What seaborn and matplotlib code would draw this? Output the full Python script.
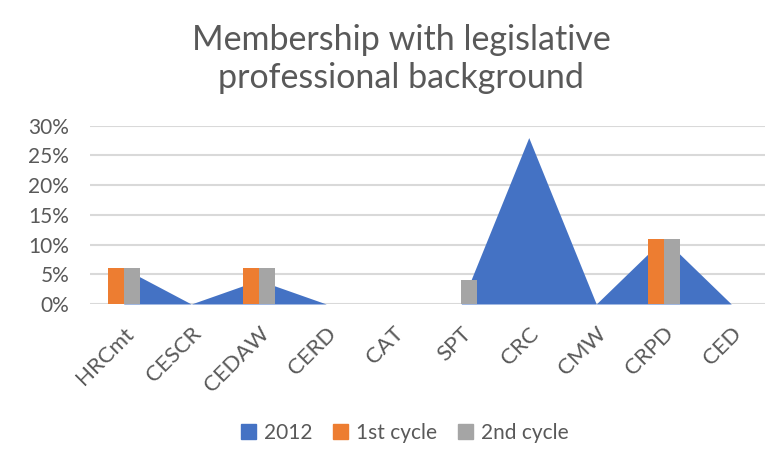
import numpy as np
import pandas as pd
import matplotlib
matplotlib.use("Agg")
import matplotlib.pyplot as plt
from matplotlib.patches import Patch
import seaborn as sns

# ---------- Data ----------
committees = ["HRCmt", "CESCR", "CEDAW", "CERD", "CAT", "SPT", "CRC", "CMW", "CRPD", "CED"]
share_2012 = [0.06, 0.0, 0.04, 0.0, 0.0, 0.0, 0.28, 0.0, 0.11, 0.0]
first_cycle = [0.06, 0.0, 0.06, 0.0, 0.0, 0.0, 0.0, 0.0, 0.11, 0.0]
second_cycle = [0.06, 0.0, 0.06, 0.0, 0.0, 0.04, 0.0, 0.0, 0.11, 0.0]
y_ticks = [0.0, 0.05, 0.10, 0.15, 0.20, 0.25, 0.30]

BLUE = "#4472C4"
ORANGE = "#ED7D31"
GRAY = "#A5A5A5"
TEXT = "#595959"
GRID = "#D9D9D9"

sns.set_theme(style="white")
plt.rcParams["font.family"] = ["Lato", "DejaVu Sans"]

bars = pd.DataFrame({
    "committee": committees * 2,
    "cycle": ["1st cycle"] * len(committees) + ["2nd cycle"] * len(committees),
    "share": first_cycle + second_cycle,
})

fig = plt.figure(figsize=(7.8, 4.73), dpi=100)
ax = fig.add_axes([90 / 780, 1 - 304 / 473, (765 - 90) / 780, (304 - 125.7) / 473])

# area series for 2012, drawn behind the bars
ax.fill_between(np.arange(len(committees)), 0, share_2012, color=BLUE, lw=0, zorder=1)

sns.barplot(data=bars, x="committee", y="share", hue="cycle", order=committees,
            palette=[ORANGE, GRAY], width=0.48, linewidth=0, saturation=1,
            legend=False, ax=ax, zorder=2)

ax.set_xlim(-0.5, len(committees) - 0.5)
ax.set_ylim(0, 0.30)
ax.set_yticks(y_ticks)
ax.set_yticklabels([f"{int(round(t * 100))}%" for t in y_ticks])
ax.yaxis.grid(True, color=GRID, lw=1.5, zorder=0)
ax.set_axisbelow(True)
for s in ax.spines.values():
    s.set_visible(False)
ax.set_xlabel("")
ax.set_ylabel("")
ax.tick_params(axis="y", length=0, pad=15, labelsize=15, labelcolor=TEXT)
ax.tick_params(axis="x", length=0, pad=14, labelsize=16, labelcolor=TEXT)
plt.setp(ax.get_xticklabels(), rotation=45, ha="right", rotation_mode="anchor")

fig.text(401 / 780, 1 - 59 / 473, "Membership with legislative\nprofessional background",
         ha="center", va="center", fontsize=24.5, color=TEXT, linespacing=1.2)

handles = [Patch(color=BLUE, label="2012"), Patch(color=ORANGE, label="1st cycle"),
           Patch(color=GRAY, label="2nd cycle")]
fig.legend(handles=handles, loc="center", bbox_to_anchor=(405 / 780, 1 - 433 / 473),
           ncol=3, frameon=False, fontsize=15, labelcolor=TEXT,
           handlelength=0.7, handleheight=0.7, handletextpad=0.4, columnspacing=1.0)

fig.savefig("out.png", dpi=100)
